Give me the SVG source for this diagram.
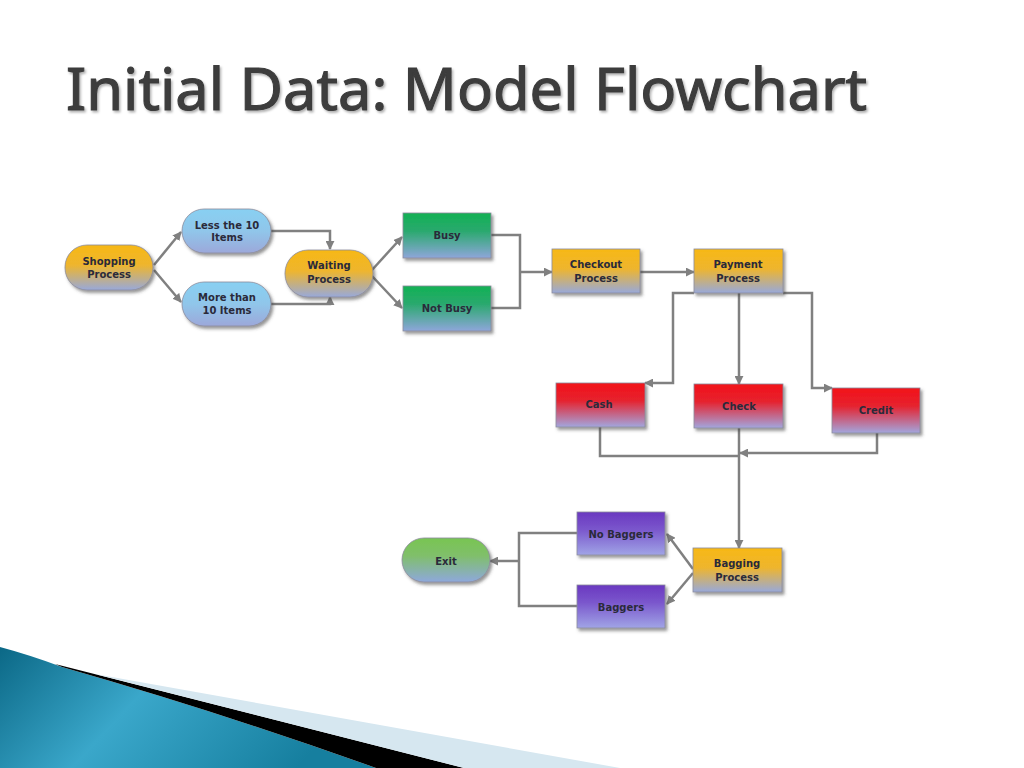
<svg xmlns="http://www.w3.org/2000/svg" width="1024" height="768" viewBox="0 0 1024 768">
<defs>
<style>
.nt{font-family:"DejaVu Sans","Liberation Sans",sans-serif;font-weight:bold;font-size:10px;fill:#2a2a3a;text-anchor:middle}
.cn{fill:none;stroke:#808080;stroke-width:2.5;stroke-linejoin:miter}
.ar{marker-end:url(#ah)}
.nd{stroke:#8c8c9c;stroke-width:0.8;filter:url(#sh)}
</style>
<marker id="ah" viewBox="0 0 10 10" refX="9" refY="5" markerWidth="9" markerHeight="9" markerUnits="userSpaceOnUse" orient="auto">
<path d="M0,0 L10,5 L0,10 Z" fill="#808080"/>
</marker>
<filter id="sh" x="-20%" y="-20%" width="140%" height="150%">
<feDropShadow dx="2" dy="2.5" stdDeviation="1.5" flood-color="#404040" flood-opacity="0.55"/>
</filter>
<filter id="tsh" x="-5%" y="-20%" width="110%" height="150%">
<feDropShadow dx="1.5" dy="2" stdDeviation="1.2" flood-color="#000" flood-opacity="0.3"/>
</filter>
<linearGradient id="gY" x1="0" y1="0" x2="0" y2="1"><stop offset="0" stop-color="#f7b816"/><stop offset="0.45" stop-color="#eeb52e"/><stop offset="1" stop-color="#98a9da"/></linearGradient>
<linearGradient id="gB" x1="0" y1="0" x2="0" y2="1"><stop offset="0" stop-color="#88d0f2"/><stop offset="0.5" stop-color="#90c6ea"/><stop offset="1" stop-color="#9ca8da"/></linearGradient>
<linearGradient id="gG" x1="0" y1="0" x2="0" y2="1"><stop offset="0" stop-color="#12b154"/><stop offset="0.4" stop-color="#2aa96e"/><stop offset="1" stop-color="#8ea6da"/></linearGradient>
<linearGradient id="gR" x1="0" y1="0" x2="0" y2="1"><stop offset="0" stop-color="#f2121a"/><stop offset="0.4" stop-color="#e6222e"/><stop offset="1" stop-color="#a2a6de"/></linearGradient>
<linearGradient id="gP" x1="0" y1="0" x2="0" y2="1"><stop offset="0" stop-color="#6a38c0"/><stop offset="0.4" stop-color="#7a56cc"/><stop offset="1" stop-color="#a0a4e6"/></linearGradient>
<linearGradient id="gE" x1="0" y1="0" x2="0" y2="1"><stop offset="0" stop-color="#78c552"/><stop offset="0.4" stop-color="#80bf6a"/><stop offset="1" stop-color="#8ea8dc"/></linearGradient>
<linearGradient id="gSw" x1="0" y1="0" x2="1" y2="0.3"><stop offset="0" stop-color="#0b6886"/><stop offset="0.45" stop-color="#3aa7ca"/><stop offset="1" stop-color="#167f9f"/></linearGradient>
</defs>
<rect width="1024" height="768" fill="#ffffff"/>
<text x="66" y="110" font-family="'Noto Sans','DejaVu Sans',sans-serif" font-size="59" fill="#3c3c3c" stroke="#3c3c3c" stroke-width="1.1" textLength="801" lengthAdjust="spacingAndGlyphs" filter="url(#tsh)">Initial Data: Model Flowchart</text>

<g id="swoosh">
<path d="M0,647 Q30,655 62,667 Q220,712 376,768 L0,768 Z" fill="url(#gSw)"/>
<path d="M55,664 L464,768 L376,768 Q220,712 62,667 Z" fill="#000000"/>
<path d="M95,674 L620,768 L464,768 Z" fill="#d6e7f0"/>
</g>

<g id="connectors">
<path class="cn ar" d="M154,265 L181,232"/>
<path class="cn ar" d="M154,270 L181,302"/>
<path class="cn ar" d="M271,231 H330 V249"/>
<path class="cn ar" d="M271,304 H330 V297"/>
<path class="cn ar" d="M372,270 L402,237"/>
<path class="cn ar" d="M372,276 L402,308"/>
<path class="cn" d="M491,235 H520 V308 H491"/>
<path class="cn ar" d="M520,272 H552"/>
<path class="cn ar" d="M640,272 H694"/>
<path class="cn ar" d="M694,293 H673 V383 H645"/>
<path class="cn ar" d="M739,293 V384"/>
<path class="cn ar" d="M783,293 H812 V388 H832"/>
<path class="cn" d="M600,427 V456 H739"/>
<path class="cn ar" d="M877,433 V453 H740"/>
<path class="cn ar" d="M739,428 V548"/>
<path class="cn ar" d="M693,569 L667,534"/>
<path class="cn ar" d="M693,573 L667,604"/>
<path class="cn" d="M577,533 H519 V606 H577"/>
<path class="cn ar" d="M519,561 H490"/>
</g>

<g id="shopping"><rect class="nd" x="65" y="245" width="88" height="45" rx="22" fill="url(#gY)"/><text class="nt" x="109" y="265">Shopping</text><text class="nt" x="109" y="278">Process</text></g>
<g id="less10"><rect class="nd" x="182" y="209" width="89" height="44" rx="22" fill="url(#gB)"/><text class="nt" x="227" y="229">Less the 10</text><text class="nt" x="227" y="241">Items</text></g>
<g id="more10"><rect class="nd" x="182" y="282" width="89" height="44" rx="22" fill="url(#gB)"/><text class="nt" x="227" y="301">More than</text><text class="nt" x="227" y="314">10 Items</text></g>
<g id="waiting"><rect class="nd" x="285" y="250" width="88" height="47" rx="23" fill="url(#gY)"/><text class="nt" x="329" y="269">Waiting</text><text class="nt" x="329" y="283">Process</text></g>
<g id="busy"><rect class="nd" x="403" y="213" width="88" height="45" fill="url(#gG)"/><text class="nt" x="447" y="239">Busy</text></g>
<g id="notbusy"><rect class="nd" x="403" y="286" width="88" height="45" fill="url(#gG)"/><text class="nt" x="447" y="312">Not Busy</text></g>
<g id="checkout"><rect class="nd" x="552" y="249" width="88" height="44" fill="url(#gY)"/><text class="nt" x="596" y="268">Checkout</text><text class="nt" x="596" y="282">Process</text></g>
<g id="payment"><rect class="nd" x="694" y="249" width="89" height="44" fill="url(#gY)"/><text class="nt" x="738" y="268">Payment</text><text class="nt" x="738" y="282">Process</text></g>
<g id="cash"><rect class="nd" x="556" y="383" width="89" height="44" fill="url(#gR)"/><text class="nt" x="599" y="408">Cash</text></g>
<g id="check"><rect class="nd" x="694" y="384" width="89" height="44" fill="url(#gR)"/><text class="nt" x="739" y="410">Check</text></g>
<g id="credit"><rect class="nd" x="832" y="388" width="88" height="45" fill="url(#gR)"/><text class="nt" x="876" y="414">Credit</text></g>
<g id="bagging"><rect class="nd" x="693" y="548" width="89" height="44" fill="url(#gY)"/><text class="nt" x="737" y="567">Bagging</text><text class="nt" x="737" y="581">Process</text></g>
<g id="nobaggers"><rect class="nd" x="577" y="512" width="88" height="43" fill="url(#gP)"/><text class="nt" x="621" y="538">No Baggers</text></g>
<g id="baggers"><rect class="nd" x="577" y="585" width="88" height="43" fill="url(#gP)"/><text class="nt" x="621" y="611">Baggers</text></g>
<g id="exit"><rect class="nd" x="402" y="538" width="88" height="44" rx="22" fill="url(#gE)"/><text class="nt" x="446" y="565">Exit</text></g>
</svg>
